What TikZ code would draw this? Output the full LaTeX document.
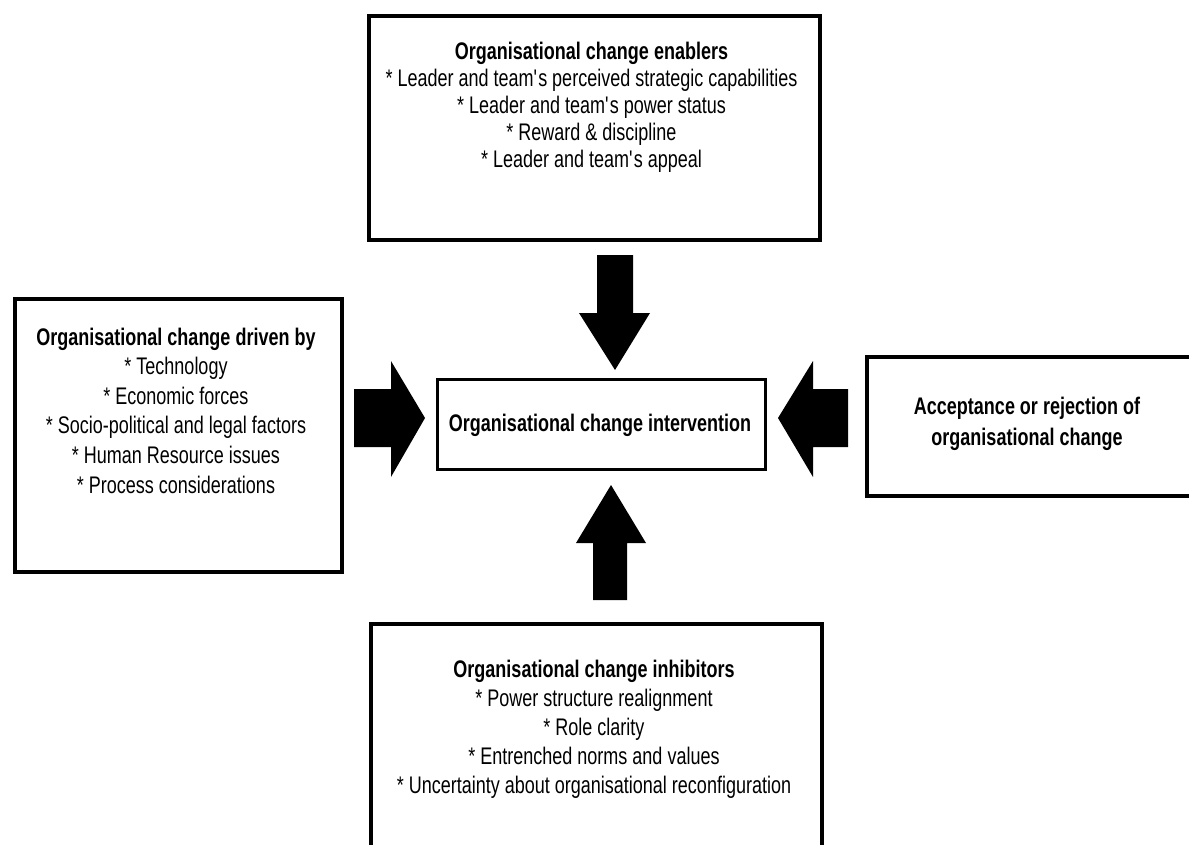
\documentclass[tikz,border=0pt]{standalone}
\usepackage{fontspec}
\setmainfont[FakeStretch=0.75]{Liberation Sans}
\tikzset{
  boxframe/.style={draw=black, line width=3.5pt, rectangle, inner sep=0pt, anchor=north west},
  boxtext/.style={align=center, inner sep=0pt, anchor=north, text=black},
  blockarrow/.style={fill=black},
}
\newcommand{\apos}{\textquotesingle}
\begin{document}
\begin{tikzpicture}[x=1pt,y=-1pt]
\useasboundingbox (0,0) rectangle (1189,844);
\fill[white] (0,0) rectangle (1189,844);

% boxes
\node[boxframe, minimum width=451pt, minimum height=224pt] (enablers) at (367,14) {};
\node[boxframe, minimum width=327pt, minimum height=273pt] (drivers) at (13,297) {};
\node[boxframe, line width=3pt, minimum width=328pt, minimum height=90pt] (intervention) at (436,378) {};
\node[boxframe, minimum width=340pt, minimum height=139pt] (acceptance) at (865,355) {};
\node[boxframe, minimum width=451pt, minimum height=240pt] (inhibitors) at (369,622) {};

% texts
\node[boxtext, font=\fontsize{24}{27}\selectfont] (enablerstext) at (591.5,41.5)
  {\textbf{Organisational change enablers}\\
   * Leader and team\apos s perceived strategic capabilities\\
   * Leader and team\apos s power status\\
   * Reward \& discipline\\
   * Leader and team\apos s appeal};

\node[boxtext, font=\fontsize{24}{29.6}\selectfont] (driverstext) at (176,327.5)
  {\textbf{Organisational change driven by}\\
   * Technology\\
   * Economic forces\\
   * Socio-political and legal factors\\
   * Human Resource issues\\
   * Process considerations};

\node[boxtext, font=\fontsize{24}{29}\selectfont] (inhibitorstext) at (594,659.5)
  {\textbf{Organisational change inhibitors}\\
   * Power structure realignment\\
   * Role clarity\\
   * Entrenched norms and values\\
   * Uncertainty about organisational reconfiguration};

\node[boxtext, font=\fontsize{24}{31}\selectfont\bfseries] (acceptancetext) at (1027,396.5)
  {Acceptance or rejection of\\ organisational change};

\node[inner sep=0pt, anchor=base, font=\fontsize{24}{27}\selectfont\bfseries] (interventiontext) at (600,431)
  {Organisational change intervention};

% block arrows
\fill[blockarrow] (597,255) -- (633,255) -- (633,313) -- (650,313) -- (615,370) -- (579,313) -- (597,313) -- cycle;
\fill[blockarrow] (354,389) -- (391,389) -- (391,361) -- (425,418) -- (391,477) -- (391,447) -- (354,447) -- cycle;
\fill[blockarrow] (848,389) -- (813,389) -- (813,361) -- (778,418) -- (813,477) -- (813,447) -- (848,447) -- cycle;
\fill[blockarrow] (593,600) -- (627,600) -- (627,543) -- (646,543) -- (611,485) -- (576,543) -- (593,543) -- cycle;
\end{tikzpicture}
\end{document}
